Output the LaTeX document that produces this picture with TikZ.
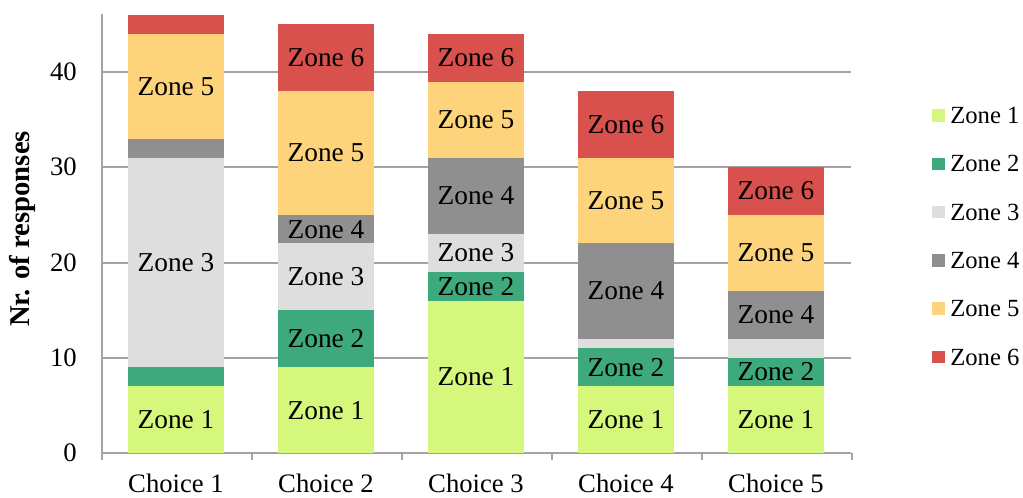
\documentclass[tikz,border=0pt]{standalone}
\usepackage{fontspec}
\setmainfont{Liberation Serif}
\definecolor{zone1}{HTML}{D5F87C}
\definecolor{zone2}{HTML}{3EA97C}
\definecolor{zone3}{HTML}{DEDEDE}
\definecolor{zone4}{HTML}{8F8F8F}
\definecolor{zone5}{HTML}{FDD47B}
\definecolor{zone6}{HTML}{D9514D}
\definecolor{axisgray}{HTML}{A3A3A3}
\tikzset{
  gridline/.style={axisgray, line width=1.5pt},
  seglabel/.style={font=\fontsize{20.5}{23}\selectfont, inner sep=0pt},
  ticklabel/.style={font=\fontsize{20}{22}\selectfont, anchor=east, inner sep=0pt},
  catlabel/.style={font=\fontsize{20}{22}\selectfont, inner sep=0pt},
  keylabel/.style={font=\fontsize{18.5}{20}\selectfont, anchor=west, inner sep=0pt},
}
\begin{document}
\begin{tikzpicture}[x=0.75pt,y=0.75pt]
    \useasboundingbox (0,0) rectangle (1023,497);
    % grid and axes
    \foreach \v in {10,20,30,40}
        \draw[gridline] (102,{44+9.525*\v}) -- (851,{44+9.525*\v});
    \foreach \v in {0,10,20,30,40}
        \node[ticklabel] (y\v) at (77,{44+9.525*\v}) {\v};
    \draw[gridline] (102,483) -- (102,44) -- (851,44);
    \foreach \k in {0,...,5}
        \draw[gridline] ({102+150*\k},44) -- ({102+150*\k},37);
    % stacked bars
    \foreach \c/\lo/\hi/\z/\t in {
        1/0/7/1/Zone 1, 1/7/9/2/, 1/9/31/3/Zone 3, 1/31/33/4/, 1/33/44/5/Zone 5, 1/44/46/6/,
        2/0/9/1/Zone 1, 2/9/15/2/Zone 2, 2/15/22/3/Zone 3, 2/22/25/4/Zone 4, 2/25/38/5/Zone 5, 2/38/45/6/Zone 6,
        3/0/16/1/Zone 1, 3/16/19/2/Zone 2, 3/19/23/3/Zone 3, 3/23/31/4/Zone 4, 3/31/39/5/Zone 5, 3/39/44/6/Zone 6,
        4/0/7/1/Zone 1, 4/7/11/2/Zone 2, 4/11/12/3/, 4/12/22/4/Zone 4, 4/22/31/5/Zone 5, 4/31/38/6/Zone 6,
        5/0/7/1/Zone 1, 5/7/10/2/Zone 2, 5/10/12/3/, 5/12/17/4/Zone 4, 5/17/25/5/Zone 5, 5/25/30/6/Zone 6} {
        \fill[zone\z] ({128+150*(\c-1)},{44+9.525*\lo}) rectangle ++(96,{9.525*(\hi-\lo)});
        \node[seglabel] (b\c z\z) at ({176+150*(\c-1)},{44+9.525*(\lo+\hi)/2}) {\t};
    }
    \foreach \c in {1,...,5}
        \node[catlabel] (choice\c) at ({176+150*(\c-1)},14) {Choice \c};
    % axis title
    \node[rotate=90, font=\fontsize{21.5}{24}\selectfont\bfseries, inner sep=0pt] (ytitle) at (22,268) {Nr. of responses};
    % legend
    \foreach \z in {1,...,6} {
        \fill[zone\z] (932,{381.5-48.3*(\z-1)-6.25}) rectangle ++(12.5,12.5);
        \node[keylabel] (key\z) at (950,{381.5-48.3*(\z-1)}) {Zone \z};
    }
\end{tikzpicture}
\end{document}
